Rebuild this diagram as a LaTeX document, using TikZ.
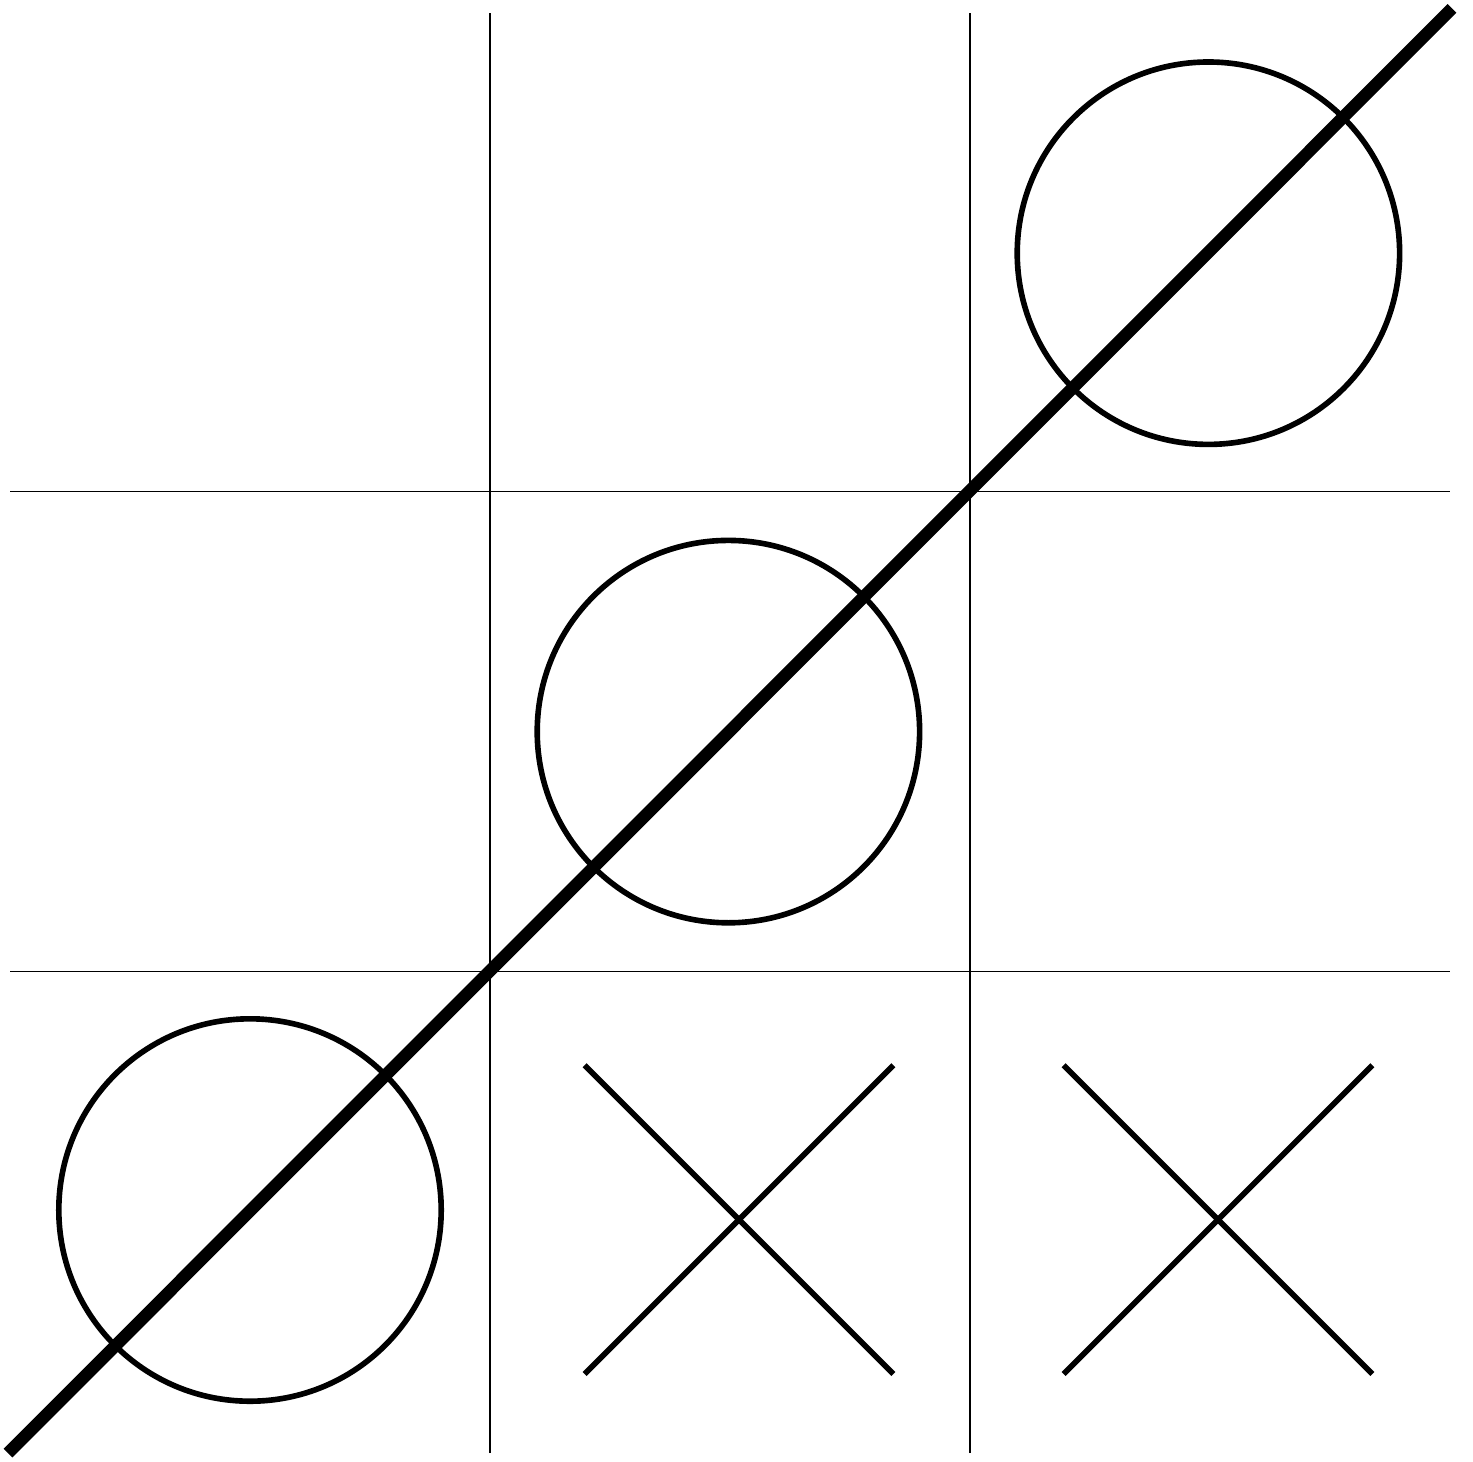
\documentclass[tikz,border=0pt]{standalone}
\usepackage{tikz}
\usetikzlibrary{calc}

\begin{document}
\begin{tikzpicture}[
gridline/.style={draw=black,line width=0.3pt},
omark/.style={draw=black,line width=1pt},
xmark/.style={draw=black,line width=1pt},
winline/.style={draw=black,line width=2.2pt}
]
\useasboundingbox (-0.0625,-0.06875) rectangle (9.14375,9.0625);

% board
\foreach \k in {3,6}{
  \draw[gridline] (\k,-0.02) -- (\k,8.98);
  \draw[gridline] (0,\k-0.01) -- (9,\k-0.01);
}

% cell centres
\coordinate (c11) at (1.5,1.5);
\coordinate (c22) at (4.49,4.49);
\coordinate (c33) at (7.49,7.48);
\coordinate (x21) at (4.556,1.44);
\coordinate (x31) at (7.55,1.44);

\draw[omark] (c11) circle (1.195);
\draw[omark] (c22) circle (1.195);
\draw[omark] (c33) circle (1.195);

\foreach \c in {x21,x31}{
  \draw[xmark] ($(\c)+(-0.965,0.965)$) -- ($(\c)+(0.965,-0.965)$);
  \draw[xmark] ($(\c)+(-0.965,-0.965)$) -- ($(\c)+(0.965,0.965)$);
}

% winning line
\coordinate (w0) at (-0.0125,-0.019);
\coordinate (w1) at (9.0125,9.01);
\draw[winline] (w0) -- (w1);
\end{tikzpicture}
\end{document}
